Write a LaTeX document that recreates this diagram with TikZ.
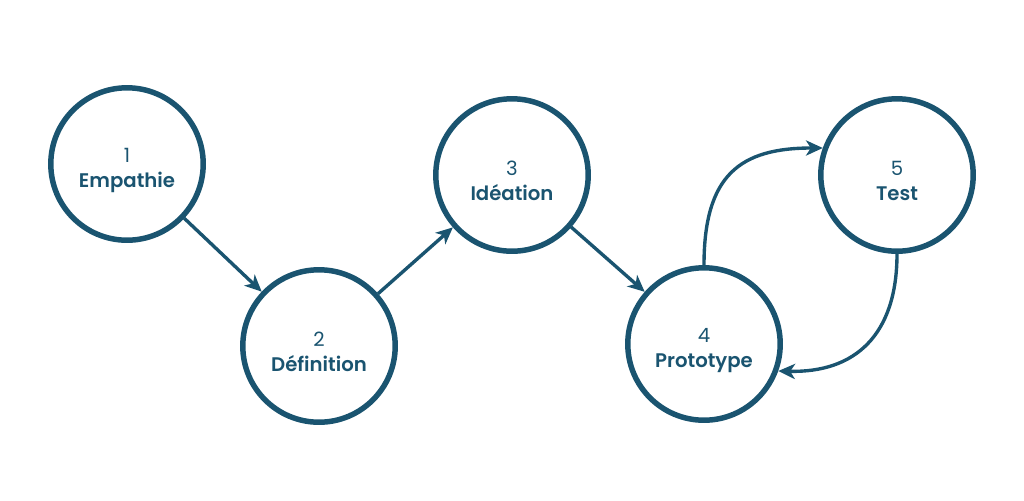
\documentclass[tikz,border=0pt]{standalone}
\usepackage{fontspec}
\setmainfont{Poppins}[BoldFont={Poppins SemiBold}]
\usetikzlibrary{arrows.meta}
\definecolor{phaseblue}{HTML}{1A5470}
\newcommand{\phaselabel}[2]{\rule{0pt}{19pt}#1\\\textbf{#2}}
\begin{document}
\begin{tikzpicture}[x=0.025cm,y=-0.025cm,
  >={Stealth[length=0.42cm,width=0.38cm,inset=0.12cm]},
  phase/.style={circle,draw=phaseblue,line width=3.9pt,minimum size=3.81cm,inner sep=0pt,
    text=phaseblue,align=center,font=\fontsize{14}{18}\selectfont},
  flow/.style={->,draw=phaseblue,line width=2.4pt}]
\useasboundingbox (0,0) rectangle (1024,500);
\node[phase] (c1) at (127,164) {\phaselabel{1}{Empathie}};
\node[phase] (c2) at (319,346) {\phaselabel{2}{Définition}};
\node[phase] (c3) at (512,175) {\phaselabel{3}{Idéation}};
\node[phase] (c4) at (704,344) {\phaselabel{4}{Prototype}};
\node[phase] (c5) at (897,175) {\phaselabel{5}{Test}};
\draw[flow] (c1)--(c2);
\draw[flow] (c2)--(c3);
\draw[flow] (c3)--(c4);
\draw[flow] (c4.north) .. controls (704,175) and (740,148) .. (c5.160);
\draw[flow] (c5.south) .. controls (897,335) and (855,373) .. (c4.-20);
\end{tikzpicture}
\end{document}
